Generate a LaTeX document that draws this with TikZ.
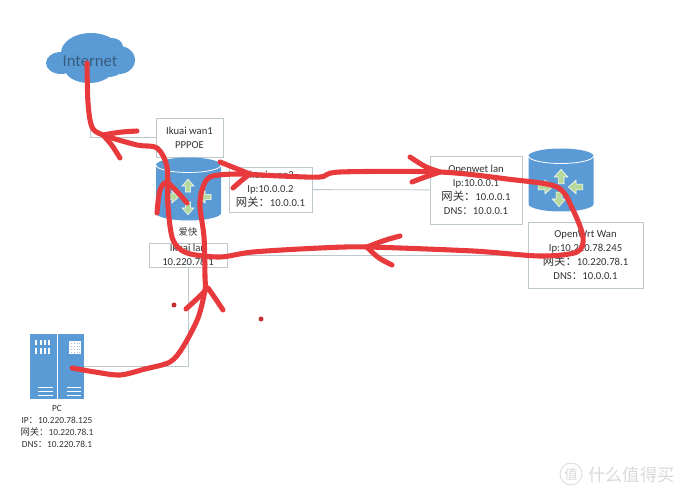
\documentclass[tikz,border=0pt]{standalone}
\usepackage{fontspec}
\setmainfont{Carlito}
\newfontfamily\cjk{Noto Sans CJK SC}
\definecolor{netblue}{HTML}{5B9BD5}
\definecolor{netgray}{HTML}{BCC8CC}
\definecolor{inkred}{HTML}{E8393C}
\definecolor{arrowgreen}{HTML}{B5D99C}
\newcommand{\wg}{{\cjk\fontsize{8.5}{10}\selectfont 网关：}}
\newcommand{\cc}{{\cjk ：}}
\tikzset{
  netbox/.style={draw=netgray, fill=white, align=center, inner sep=0pt, text=black!80,
    font=\fontsize{8}{10.6}\selectfont},
  netline/.style={draw=netgray, line width=0.6pt},
  redline/.style={draw=inkred, line width=3.8pt, line cap=round, line join=round},
  flowarrow/.pic={
    \draw [fill=arrowgreen, draw=white, line width=0.4pt]
    (-3.5,8)--(-3.5,0)--(-8,0)--(0,-9)--(8,0)--(3.5,0)--(3.5,8)--cycle;
  },
  router/.pic={
    \fill [netblue] (-32.5,-24) -- (-32.5,24) arc (180:360:32.5 and -7.5) -- (32.5,-24) arc (0:180:32.5 and -7.5) -- cycle;
    \draw [white, line width=0.6pt] (-32.5,-24) arc (180:360:32.5 and -7.5);
  }
}
\begin{document}
\begin{tikzpicture} [x=0.75pt, y=-0.75pt]
\useasboundingbox (0,0) rectangle (680,491);

% cloud
\fill [netblue] (61,63) ellipse (15 and 11);
\fill [netblue] (91,53) ellipse (30 and 20);
\fill [netblue] (119,60) ellipse (16 and 14);
\fill [netblue] (89,69) ellipse (24 and 14);
\fill [netblue] (112,47) ellipse (11 and 9);
\fill [netblue] (75,62) ellipse (17 and 12);
\fill [netblue] (108,68) ellipse (15 and 9);
\node [font=\fontsize{12.5}{14}\selectfont, text=netblue!60!black] (inet) at (90,61) {Internet};

% boxes
\node [netbox, minimum width=50.5pt, minimum height=29pt] (wan1) at (189.5,137.5) {Ikuai wan1\\PPPOE};
\node [netbox, minimum width=62pt, minimum height=34pt] (wan2) at (270.5,189.5) {Ikuai wan2\\Ip:10.0.0.2\\\wg 10.0.0.1};
\node [netbox, minimum width=58.5pt, minimum height=18pt] (lan) at (188,255) {Ikuai lan\\10.220.78.1};
\node [netbox, minimum width=69pt, minimum height=51pt] (wetlan) at (476,190) {Openwet lan\\Ip:10.0.0.1\\\wg 10.0.0.1\\DNS\cc 10.0.0.1};
\node [netbox, minimum width=86pt, minimum height=49.5pt] (wrtwan) at (585.5,255) {OpenWrt Wan\\Ip:10.220.78.245\\\wg 10.220.78.1\\DNS\cc 10.0.0.1};

% pc
\node [fill=netblue, minimum width=40.5pt, minimum height=48.5pt, inner sep=0pt] (pc) at (57,366.5) {};
\fill [white] (56.5,334) rectangle (57.5,399);
\foreach \x in {36,41,45,49} {
  \fill [white] (\x-0.8,340) rectangle (\x+0.8,345);
  \fill [white] (\x-0.8,348) rectangle (\x+0.8,354);
}
\foreach \y in {387,391,395} {
  \fill [white] (38,\y-0.5) rectangle (53,\y+0.5);
  \fill [white] (67,\y-0.5) rectangle (81,\y+0.5);
}
\fill [white] (69,341) rectangle (81,354);
\foreach \x in {71,74,77,79.5}
  \foreach \y in {343,346,349,352}
    \fill [netblue!60] (\x-0.5,\y-0.5) rectangle (\x+0.5,\y+0.5);
\node [align=center, inner sep=0pt, text=black!80, font=\fontsize{7}{9}\selectfont] (pctext) at (57,426.5)
  {PC\\IP\cc 10.220.78.125\\{\cjk\fontsize{7}{9}\selectfont 网关：}10.220.78.1\\DNS\cc 10.220.78.1};

% connectors
\coordinate (wanend) at (90,128);
\draw [netline] (wan1.west) -| (wanend);
\draw [netline] (wan2) -- (wetlan);
\draw [netline] (lan) -- (wrtwan);
\draw [netline] (pc.east) -| (lan.south);

% routers
\pic at (188.5,189) {router};
\pic at (561,180) {router};
\node [inner sep=0pt, text=black!80, font=\cjk\fontsize{7}{9}\selectfont] (ikuai) at (188,232) {爱快};
\pic at (188,186) [scale=0.75] {flowarrow};
\pic at (188,208) [scale=0.75, rotate=180] {flowarrow};
\pic at (205,197) [scale=0.75, rotate=90] {flowarrow};
\pic at (172,197) [scale=0.75, rotate=-90] {flowarrow};
\pic at (561,177) [scale=0.85] {flowarrow};
\pic at (559,199) [scale=0.85, rotate=180] {flowarrow};
\pic at (576,187) [scale=0.85, rotate=90] {flowarrow};
\pic at (545,187) [scale=0.85, rotate=-90] {flowarrow};

% watermark
\node [draw=black!12, circle, line width=0.8pt, inner sep=1pt, text=black!15, font=\cjk\fontsize{10}{10}\selectfont] (zdm) at (571,474) {值};
\node [right=0pt, inner sep=0pt, text=black!15, font=\cjk\fontsize{13}{13}\selectfont] (zdmtext) at (588,475) {什么值得买};

% red marker
\draw [redline] plot [smooth, tension=0.5] coordinates {(72,368) (95,372) (120,375) (145,369) (170,362) (183,347) (198,318) (205,290) (205,277) (204,237) (200,207) (202,190) (210,177) (237,174) (280,176) (320,177) (340,172) (440,172) (507,179) (557,187) (573,210) (583,237) (577,252) (540,256) (473,251) (367,247) (320,248) (253,252) (220,257) (187,253) (173,240) (168,207) (167,167) (157,148) (137,145) (103,135) (92,127) (88,103) (87,63)};
\draw [redline] plot [smooth] coordinates {(157,213) (160,190) (168,183) (187,203)};
\draw [redline] (137,131) .. controls (120,132) .. (103,135) .. controls (112,145) .. (120,158);
\draw [redline] (220,162) .. controls (235,168) .. (250,174) .. controls (242,180) .. (233,188);
\draw [redline] (410,157) .. controls (425,167) .. (440,172) .. controls (425,177) .. (412,182);
\draw [redline] (400,236) .. controls (385,240) .. (367,247) .. controls (378,258) .. (392,265);
\draw [redline] (186,309) .. controls (198,298) .. (208,288) .. controls (215,298) .. (223,310);
\fill [inkred!85!black] (174,305) circle (2.5);
\fill [inkred!85!black] (261,319) circle (2.5);
\end{tikzpicture}
\end{document}
